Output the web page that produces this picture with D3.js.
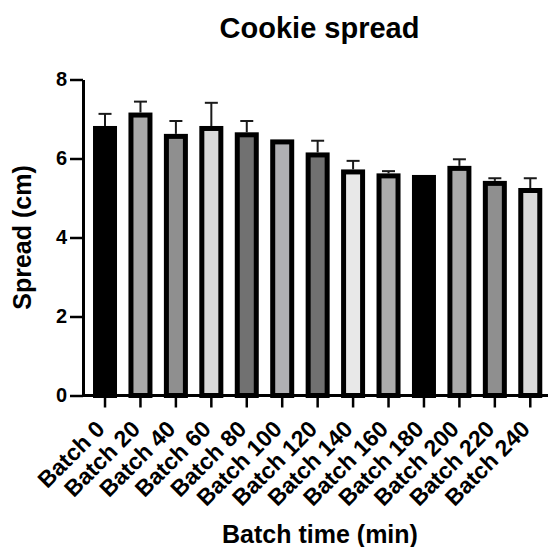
<!doctype html>
<html lang="en">
  <head>
    <meta charset="utf-8">
    <title>Cookie spread</title>
    <script src="https://d3js.org/d3.v7.min.js"></script>
    <style>
      body { margin: 0; background: #fff; }
      text { font-family: "Liberation Sans", Arial, Helvetica, sans-serif; font-weight: bold; fill: #000; }
    </style>
  </head>
  <body>
    <div id="my_dataviz"></div>
    <script>
      // data
      var batches = ["Batch 0", "Batch 20", "Batch 40", "Batch 60", "Batch 80", "Batch 100", "Batch 120",
                     "Batch 140", "Batch 160", "Batch 180", "Batch 200", "Batch 220", "Batch 240"];
      var spread = [6.76, 7.10, 6.56, 6.76, 6.60, 6.42, 6.09, 5.66, 5.56, 5.52, 5.75, 5.37, 5.19];
      var sd     = [0.37, 0.34, 0.39, 0.65, 0.35, 0, 0.36, 0.28, 0.12, 0, 0.23, 0.13, 0.31];
      var fills  = ["#000000", "#aaaaaa", "#8f8f8f", "#d9d9d9", "#717171", "#b0b0b3", "#717171",
                    "#e8e8e8", "#ababab", "#000000", "#aaaaaa", "#8f8f8f", "#d9d9d9"];
      var yTicks = [0, 2, 4, 6, 8];

      var width = 549, height = 547;
      var margin = {left: 83, right: 548, top: 79.5, bottom: 395.5};

      var svg = d3.select("#my_dataviz")
        .append("svg")
          .attr("width", width)
          .attr("height", height);

      var x = d3.scaleBand()
        .domain(batches)
        .range([87.3, 548]);

      var y = d3.scaleLinear()
        .domain([0, 8])
        .range([margin.bottom, margin.top]);

      // bars
      svg.append("g")
        .selectAll("rect")
        .data(batches)
        .join("rect")
          .attr("x", function(d) { return x(d) + x.bandwidth() / 2 - 9.5; })
          .attr("width", 19)
          .attr("y", function(d, i) { return y(spread[i]); })
          .attr("height", function(d, i) { return y(0) - y(spread[i]); })
          .attr("fill", function(d, i) { return fills[i]; })
          .attr("stroke", "#000")
          .attr("stroke-width", 5);

      // error bars (upper only)
      var err = svg.append("g")
        .selectAll("g")
        .data(batches.filter(function(d, i) { return sd[i] > 0; }))
        .join("g")
          .attr("stroke", "#1a1a1a")
          .attr("stroke-width", 2);
      err.append("line")
        .attr("x1", function(d) { return x(d) + x.bandwidth() / 2; })
        .attr("x2", function(d) { return x(d) + x.bandwidth() / 2; })
        .attr("y1", function(d) { var i = batches.indexOf(d); return y(spread[i]) - 2.5; })
        .attr("y2", function(d) { var i = batches.indexOf(d); return y(spread[i] + sd[i]); });
      err.append("line")
        .attr("x1", function(d) { return x(d) + x.bandwidth() / 2 - 6.5; })
        .attr("x2", function(d) { return x(d) + x.bandwidth() / 2 + 6.5; })
        .attr("y1", function(d) { var i = batches.indexOf(d); return y(spread[i] + sd[i]); })
        .attr("y2", function(d) { var i = batches.indexOf(d); return y(spread[i] + sd[i]); });

      // x axis
      var gx = svg.append("g")
        .attr("transform", "translate(0," + margin.bottom + ")")
        .call(d3.axisBottom(x).tickSize(12).tickSizeOuter(0));
      gx.select(".domain").attr("d", "M" + margin.left + ",0H" + margin.right).attr("stroke-width", 3);
      gx.selectAll(".tick line").attr("stroke-width", 2.5);
      gx.selectAll(".tick text")
        .attr("x", 0).attr("y", 0).attr("dy", null)
        .attr("text-anchor", "end")
        .attr("transform", "translate(1,35) rotate(-45)")
        .style("font-size", "23px");

      // y axis
      var gy = svg.append("g")
        .attr("transform", "translate(" + margin.left + ",0)")
        .call(d3.axisLeft(y).tickValues(yTicks).tickSize(13).tickPadding(3).tickSizeOuter(0));
      gy.select(".domain").attr("stroke-width", 3);
      gy.selectAll(".tick line").attr("stroke-width", 2.5);
      gy.selectAll(".tick text").style("font-size", "20px");
      gy.selectAll("text").attr("font-family", null);
      gx.selectAll("text").attr("font-family", null);

      // titles
      svg.append("text")
        .attr("x", 319.5).attr("y", 38)
        .attr("text-anchor", "middle")
        .style("font-size", "29px")
        .text("Cookie spread");

      svg.append("text")
        .attr("x", 320).attr("y", 543)
        .attr("text-anchor", "middle")
        .style("font-size", "25px")
        .text("Batch time (min)");

      svg.append("text")
        .attr("transform", "translate(31," + ((margin.top + margin.bottom) / 2) + ") rotate(-90)")
        .attr("text-anchor", "middle")
        .style("font-size", "25px")
        .text("Spread (cm)");
    </script>
  </body>
</html>
